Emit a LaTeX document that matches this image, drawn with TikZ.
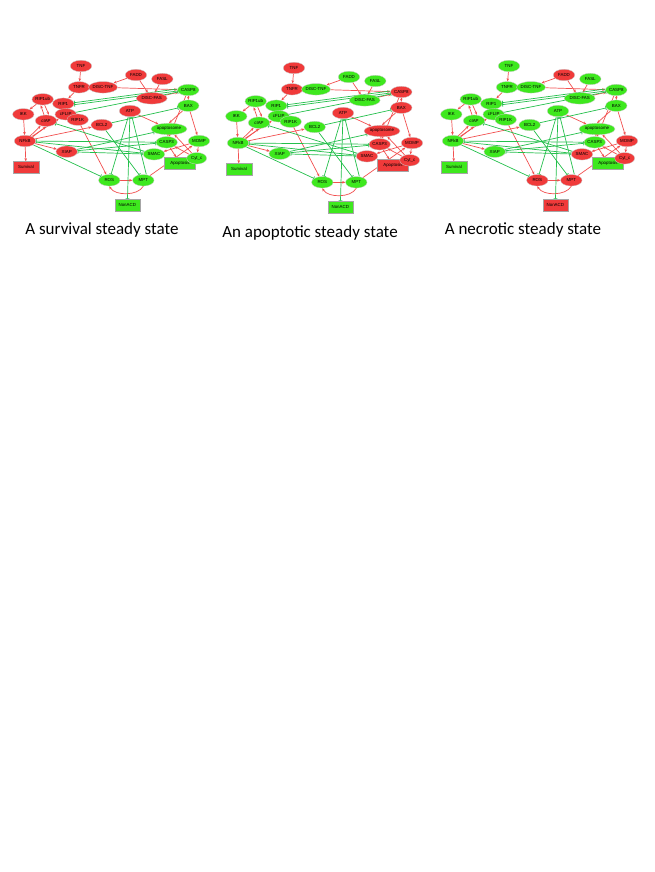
\documentclass[tikz,border=0pt]{standalone}
\usepackage{fontspec}
\setmainfont{Carlito}
\newfontfamily\nodefont{Liberation Sans}
\usetikzlibrary{shapes.geometric,arrows.meta,backgrounds}
\definecolor{nRed}{RGB}{240,58,58}
\definecolor{nGreen}{RGB}{62,232,30}
\definecolor{eRed}{RGB}{242,80,80}
\definecolor{eGreen}{RGB}{36,192,76}
\tikzset{
  st/.style={ellipse, draw=black!20, line width=0.3pt, inner sep=0pt,
    minimum width=21.5pt, minimum height=11.5pt,
    font=\nodefont\fontsize{4.4}{5}\selectfont},
  bx/.style={rectangle, draw=black!35, line width=0.3pt, inner sep=0pt,
    minimum width=26pt, minimum height=11.5pt,
    font=\nodefont\fontsize{4.4}{5}\selectfont},
  act/.style={draw=eRed, line width=0.7pt, -{Stealth[length=3.2pt,width=2.6pt]}},
  inh/.style={draw=eGreen, line width=0.7pt, -{Bar[width=3.8pt]}},
  caption/.style={font=\fontsize{17}{20}\selectfont, inner sep=0pt}
}
\newcommand\drawnet[1]{%
  \node[st,fill=cTNF] (#1TNF) at (81,66) {TNF};
  \node[st,fill=cTNFR] (#1TNFR) at (79,87.3) {TNFR};
  \node[st,fill=cDISCTNF,minimum width=28pt] (#1DISCTNF) at (103,87.3) {DISC-TNF};
  \node[st,fill=cFADD] (#1FADD) at (136,75) {FADD};
  \node[st,fill=cFASL] (#1FASL) at (162.3,79) {FASL};
  \node[st,fill=cCASPviii] (#1CASP8) at (188.3,90) {CASP8};
  \node[st,fill=cDISCFAS,minimum width=31pt] (#1DISCFAS) at (151.7,98.3) {DISC-FAS};
  \node[st,fill=cRIPub] (#1RIP1ub) at (42.7,99.3) {RIP1ub};
  \node[st,fill=cRIP] (#1RIP1) at (63.3,103.7) {RIP1};
  \node[st,fill=cIKK] (#1IKK) at (23.3,114.3) {IKK};
  \node[st,fill=ccIAP] (#1cIAP) at (46,120.7) {cIAP};
  \node[st,fill=ccFLIP] (#1cFLIP) at (65.7,114.3) {cFLIP};
  \node[st,fill=cRIPK] (#1RIP1K) at (77.7,119.7) {RIP1K};
  \node[st,fill=cBCL] (#1BCL2) at (101.7,125) {BCL2};
  \node[st,fill=cATP] (#1ATP) at (130,111) {ATP};
  \node[st,fill=cBAX] (#1BAX) at (188.3,105.7) {BAX};
  \node[st,fill=capo,minimum width=36pt] (#1apo) at (169,129) {apoptosome};
  \node[st,fill=cCASPiii] (#1CASP3) at (166.7,142.3) {CASP3};
  \node[st,fill=cMOMP] (#1MOMP) at (199,141) {MOMP};
  \node[st,fill=cNFkB] (#1NFkB) at (25,141) {NFkB};
  \node[st,fill=cXIAP] (#1XIAP) at (66.7,151.7) {XIAP};
  \node[st,fill=cSMAC] (#1SMAC) at (154,154.3) {SMAC};
  \node[bx,fill=cApop,minimum width=31pt] (#1Apop) at (180,163.3) {Apoptosis};
  \node[st,fill=cCytc,minimum width=20pt] (#1Cytc) at (196.7,158.3) {Cyt\_c};
  \node[bx,fill=cSurv] (#1Surv) at (26,167.3) {Survival};
  \node[st,fill=cROS] (#1ROS) at (109.3,180.3) {ROS};
  \node[st,fill=cMPT] (#1MPT) at (143.3,180.3) {MPT};
  \node[bx,fill=cNonACD,minimum width=25pt] (#1NonACD) at (127.3,205) {NonACD};
  \begin{pgfonlayer}{background}
    % activations
    \draw[act] (#1TNF) -- (#1TNFR);
    \draw[act] (#1TNFR) -- (#1RIP1);
    \draw[act] (#1FADD) -- (#1DISCTNF.north east);
    \draw[act] (#1FADD) -- (#1DISCFAS);
    \draw[act] (#1FASL) -- (#1DISCFAS);
    \draw[act] (#1DISCTNF) -- (#1CASP8);
    \draw[act] (#1DISCFAS) -- (#1CASP8);
    \draw[act] (#1RIP1) -- (#1RIP1ub);
    \draw[act] (#1RIP1ub) -- (#1IKK);
    \draw[act] (#1IKK) -- (#1NFkB);
    \draw[act] ([xshift=-2pt]#1cIAP.north) -- ([xshift=-2pt]#1RIP1ub.south);
    \draw[act] ([xshift=2pt]#1RIP1ub.south) -- ([xshift=3pt]#1cIAP.north);
    \draw[act] (#1NFkB) -- (#1cIAP);
    \draw[act] (#1NFkB.north east) -- (#1cIAP.south);
    \draw[act] (#1NFkB) -- (#1cFLIP);
    \draw[act] (#1NFkB) -- (#1BCL2);
    \draw[act] (#1NFkB) -- (#1XIAP);
    \draw[act] (#1NFkB) -- (#1Surv);
    \draw[act] (#1RIP1) -- (#1RIP1K);
    \draw[act] (#1RIP1K) -- (#1ROS);
    \draw[act] (#1ROS) -- (#1MPT);
    \draw[act] (#1MPT.south) .. controls (138,196) and (115,196) .. (#1ROS.south);
    \draw[act] (#1MPT) -- (#1MOMP);
    \draw[act] (#1ATP) -- (#1apo);
    \draw[act] (#1CASP8) -- (#1BAX);
    \draw[act] (#1BAX) -- (#1MOMP);
    \draw[act] (#1BAX) -- (#1apo.north);
    \draw[act] (#1MOMP) -- (#1Cytc);
    \draw[act] (#1MOMP) -- (#1SMAC);
    \draw[act] (#1Cytc) -- (#1apo);
    \draw[act] (#1apo) -- (#1CASP3);
    \draw[act] (#1CASP3) -- (#1Apop);
    \draw[act] (#1Cytc) -- (#1CASP3);
    \draw[act] (#1CASP8) -- (#1CASP3);
    % inhibitions
    \draw[inh] ([yshift=-1pt]#1CASP8.west) -- ([yshift=-1pt]#1RIP1.east);
    \draw[inh] ([yshift=1pt]#1CASP8.west) -- ([yshift=1pt]#1RIP1.east);
    \draw[inh] (#1cFLIP) -- (#1CASP8);
    \draw[inh] (#1BCL2) -- (#1BAX);
    \draw[inh] (#1BCL2) -- (#1MPT);
    \draw[inh] (#1ATP) -- (#1NonACD);
    \draw[inh] ([xshift=3pt]#1MPT.north) -- ([xshift=2pt]#1ATP.south);
    \draw[inh] (#1NFkB) -- (#1ROS);
    \draw[inh] (#1XIAP) -- (#1CASP3);
    \draw[inh] (#1XIAP) -- (#1apo);
    \draw[inh] (#1SMAC) -- (#1XIAP);
    \draw[inh] (#1SMAC) -- (#1cIAP);
    \draw[inh] (#1CASP3) -- (#1NFkB);
    \draw[inh] (#1NFkB) -- (#1SMAC);
    \draw[inh] (#1ATP) -- (#1ROS);
  \end{pgfonlayer}
}
\begin{document}
\begin{tikzpicture}[x=1pt,y=-1pt]
\begin{pgfonlayer}{background}
  \fill[white] (0,0) rectangle (654,872);
\end{pgfonlayer}
\useasboundingbox (0,0) rectangle (654,872);
% survival
\begin{scope}
  \colorlet{cTNF}{nRed}\colorlet{cTNFR}{nRed}\colorlet{cDISCTNF}{nRed}
  \colorlet{cFADD}{nRed}\colorlet{cFASL}{nRed}\colorlet{cCASPviii}{nGreen}
  \colorlet{cDISCFAS}{nRed}\colorlet{cRIPub}{nRed}\colorlet{cRIP}{nRed}
  \colorlet{cIKK}{nRed}\colorlet{ccIAP}{nRed}\colorlet{ccFLIP}{nRed}
  \colorlet{cRIPK}{nRed}\colorlet{cBCL}{nRed}\colorlet{cATP}{nRed}
  \colorlet{cBAX}{nGreen}\colorlet{capo}{nGreen}\colorlet{cCASPiii}{nGreen}
  \colorlet{cMOMP}{nGreen}\colorlet{cNFkB}{nRed}\colorlet{cXIAP}{nRed}
  \colorlet{cSMAC}{nGreen}\colorlet{cApop}{nGreen}\colorlet{cCytc}{nGreen}
  \colorlet{cSurv}{nRed}\colorlet{cROS}{nGreen}\colorlet{cMPT}{nGreen}
  \colorlet{cNonACD}{nGreen}
  \drawnet{a}
\end{scope}
% apoptotic
\begin{scope}[shift={(213,2)}]
  \colorlet{cTNF}{nRed}\colorlet{cTNFR}{nRed}\colorlet{cDISCTNF}{nGreen}
  \colorlet{cFADD}{nGreen}\colorlet{cFASL}{nGreen}\colorlet{cCASPviii}{nRed}
  \colorlet{cDISCFAS}{nGreen}\colorlet{cRIPub}{nGreen}\colorlet{cRIP}{nGreen}
  \colorlet{cIKK}{nGreen}\colorlet{ccIAP}{nGreen}\colorlet{ccFLIP}{nGreen}
  \colorlet{cRIPK}{nGreen}\colorlet{cBCL}{nGreen}\colorlet{cATP}{nRed}
  \colorlet{cBAX}{nRed}\colorlet{capo}{nRed}\colorlet{cCASPiii}{nRed}
  \colorlet{cMOMP}{nRed}\colorlet{cNFkB}{nGreen}\colorlet{cXIAP}{nGreen}
  \colorlet{cSMAC}{nRed}\colorlet{cApop}{nRed}\colorlet{cCytc}{nRed}
  \colorlet{cSurv}{nGreen}\colorlet{cROS}{nGreen}\colorlet{cMPT}{nGreen}
  \colorlet{cNonACD}{nGreen}
  \drawnet{b}
\end{scope}
% necrotic
\begin{scope}[shift={(428,0)}]
  \colorlet{cTNF}{nGreen}\colorlet{cTNFR}{nGreen}\colorlet{cDISCTNF}{nGreen}
  \colorlet{cFADD}{nRed}\colorlet{cFASL}{nGreen}\colorlet{cCASPviii}{nGreen}
  \colorlet{cDISCFAS}{nGreen}\colorlet{cRIPub}{nGreen}\colorlet{cRIP}{nGreen}
  \colorlet{cIKK}{nGreen}\colorlet{ccIAP}{nGreen}\colorlet{ccFLIP}{nGreen}
  \colorlet{cRIPK}{nGreen}\colorlet{cBCL}{nGreen}\colorlet{cATP}{nGreen}
  \colorlet{cBAX}{nGreen}\colorlet{capo}{nGreen}\colorlet{cCASPiii}{nGreen}
  \colorlet{cMOMP}{nRed}\colorlet{cNFkB}{nGreen}\colorlet{cXIAP}{nGreen}
  \colorlet{cSMAC}{nRed}\colorlet{cApop}{nGreen}\colorlet{cCytc}{nRed}
  \colorlet{cSurv}{nGreen}\colorlet{cROS}{nRed}\colorlet{cMPT}{nRed}
  \colorlet{cNonACD}{nRed}
  \drawnet{c}
\end{scope}
\node[caption] (cap1) at (102,230) {A survival steady state};
\node[caption] (cap2) at (310,233) {An apoptotic steady state};
\node[caption] (cap3) at (523,230) {A necrotic steady state};
\end{tikzpicture}
\end{document}
